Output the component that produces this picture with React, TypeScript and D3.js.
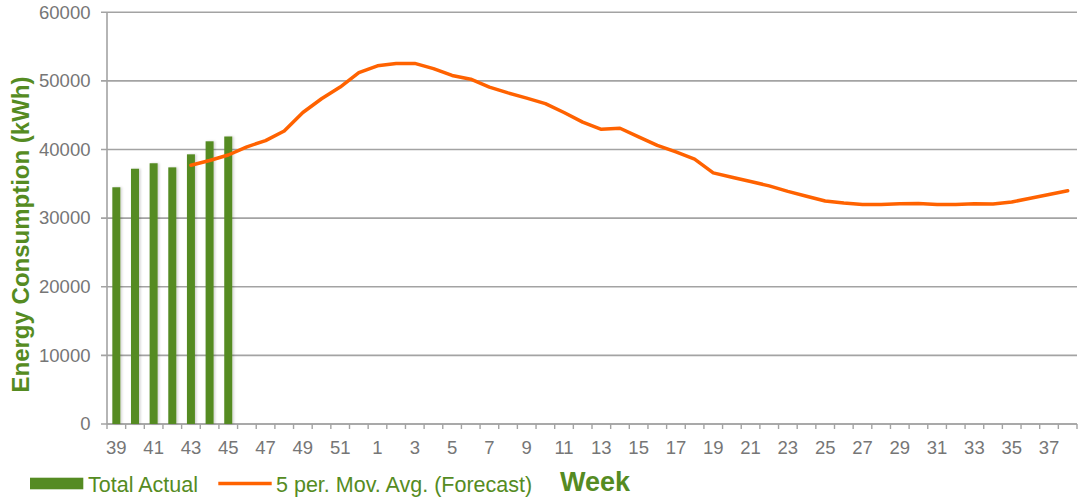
import React, { useRef, useEffect } from 'react'
import * as d3 from 'd3'

// weeks 39..52 then 1..38
const weeks: string[] = [
  ...d3.range(39, 53).map(String),
  ...d3.range(1, 39).map(String),
]

const actualWeeks = ['39', '40', '41', '42', '43', '44', '45']
const actualValues = [34500, 37200, 38000, 37400, 39300, 41200, 41900]

const forecastWeeks = [
  '43', '44', '45', '46', '47', '48', '49', '50', '51', '52',
  '1', '2', '3', '4', '5', '6', '7', '8', '9', '10',
  '11', '12', '13', '14', '15', '16', '17', '18', '19', '20',
  '21', '22', '23', '24', '25', '26', '27', '28', '29', '30',
  '31', '32', '33', '34', '35', '36', '37', '38',
]
const forecastValues = [
  37700, 38400, 39200, 40400, 41300, 42700, 45400, 47400, 49100, 51200,
  52200, 52550, 52550, 51800, 50800, 50250, 49100, 48250, 47500, 46700,
  45400, 44000, 42950, 43100, 41850, 40600, 39650, 38600, 36600, 35950,
  35350, 34700, 33900, 33200, 32500, 32200, 32000, 32000, 32100, 32150,
  32000, 31980, 32100, 32050, 32350, 32900, 33450, 34000,
]

const yTicks = [0, 10000, 20000, 30000, 40000, 50000, 60000]

const GREEN = '#558b22'
const ORANGE = '#ff6200'
const GRID = '#a3a3a3'
const LABEL = '#767676'
const FONT = '"Liberation Sans", Arial, sans-serif'

export default function App() {
  const svgRef = useRef<SVGSVGElement>(null)
  const width = 1086
  const height = 498

  useEffect(() => {
    if (!svgRef.current) return
    const svg = d3.select(svgRef.current)
    svg.selectAll('*').remove()

    const left = 107
    const right = 1077
    const top = 12.3
    const bottom = 424

    const x = d3.scaleBand<string>().domain(weeks).range([left, right]).padding(0)
    const y = d3.scaleLinear().domain([0, 60000]).range([bottom, top])

    // gridlines
    svg.append('g')
      .selectAll('line')
      .data(yTicks)
      .enter()
      .append('line')
      .attr('x1', left - 6)
      .attr('x2', right)
      .attr('y1', d => y(d))
      .attr('y2', d => y(d))
      .attr('stroke', GRID)
      .attr('stroke-width', 1.6)

    // y labels
    svg.append('g')
      .selectAll('text')
      .data(yTicks)
      .enter()
      .append('text')
      .attr('x', 90.5)
      .attr('y', d => y(d) + 6.3)
      .attr('text-anchor', 'end')
      .attr('font-family', FONT)
      .attr('font-size', 18.5)
      .attr('fill', LABEL)
      .text(d => String(d))

    // y axis line
    svg.append('line')
      .attr('x1', left).attr('x2', left)
      .attr('y1', top).attr('y2', bottom)
      .attr('stroke', GRID).attr('stroke-width', 1.6)

    // x axis line + ticks at band boundaries
    svg.append('line')
      .attr('x1', left).attr('x2', right)
      .attr('y1', bottom).attr('y2', bottom)
      .attr('stroke', GRID).attr('stroke-width', 1.6)

    const boundaries = [...weeks.map(w => x(w) as number), right]
    svg.append('g')
      .selectAll('line')
      .data(boundaries)
      .enter()
      .append('line')
      .attr('x1', d => d).attr('x2', d => d)
      .attr('y1', bottom).attr('y2', bottom + 5)
      .attr('stroke', GRID).attr('stroke-width', 1.4)

    // x labels, every other week
    svg.append('g')
      .selectAll('text')
      .data(weeks.filter((_, i) => i % 2 === 0))
      .enter()
      .append('text')
      .attr('x', d => (x(d) as number) + x.bandwidth() / 2)
      .attr('y', 454)
      .attr('text-anchor', 'middle')
      .attr('font-family', FONT)
      .attr('font-size', 18.5)
      .attr('fill', LABEL)
      .text(d => d)

    // bars
    const barW = 8
    const defs = svg.append('defs')
    const f = defs.append('filter').attr('id', 'shadow').attr('x', '-50%').attr('width', '200%')
    f.append('feDropShadow').attr('dx', 1.5).attr('dy', 0).attr('stdDeviation', 1.2)
      .attr('flood-color', '#000').attr('flood-opacity', 0.18)

    svg.append('g')
      .selectAll('rect')
      .data(actualValues)
      .enter()
      .append('rect')
      .attr('x', (_, i) => (x(actualWeeks[i]) as number) + x.bandwidth() / 2 - barW / 2)
      .attr('y', d => y(d))
      .attr('width', barW)
      .attr('height', d => bottom - y(d))
      .attr('fill', GREEN)
      .attr('filter', 'url(#shadow)')

    // forecast line
    const line = d3.line<number>()
      .x((_, i) => (x(forecastWeeks[i]) as number) + x.bandwidth() / 2)
      .y(d => y(d))

    svg.append('path')
      .datum(forecastValues)
      .attr('d', line)
      .attr('fill', 'none')
      .attr('stroke', ORANGE)
      .attr('stroke-width', 3.5)
      .attr('stroke-linejoin', 'round')
      .attr('stroke-linecap', 'round')

    // y title
    svg.append('text')
      .attr('transform', 'translate(28.5,234.5) rotate(-90)')
      .attr('text-anchor', 'middle')
      .attr('font-family', FONT)
      .attr('font-weight', 'bold')
      .attr('font-size', 24)
      .attr('fill', GREEN)
      .text('Energy Consumption (kWh)')

    // legend
    svg.append('rect')
      .attr('x', 30).attr('y', 477.7).attr('width', 53.3).attr('height', 11.6)
      .attr('fill', GREEN)
    svg.append('text')
      .attr('x', 88).attr('y', 491.5)
      .attr('font-family', FONT).attr('font-size', 21.5).attr('fill', GREEN)
      .text('Total Actual')
    svg.append('line')
      .attr('x1', 218.3).attr('x2', 271.7).attr('y1', 483.5).attr('y2', 483.5)
      .attr('stroke', ORANGE).attr('stroke-width', 3.5)
    svg.append('text')
      .attr('x', 276).attr('y', 491.5)
      .attr('font-family', FONT).attr('font-size', 21.5).attr('fill', GREEN)
      .text('5 per. Mov. Avg. (Forecast)')
    svg.append('text')
      .attr('x', 560).attr('y', 490.7)
      .attr('font-family', FONT).attr('font-weight', 'bold').attr('font-size', 27).attr('fill', GREEN)
      .text('Week')
  }, [])

  return (
    <svg
      ref={svgRef}
      width={width}
      height={height}
      style={{ position: 'absolute', left: 0, top: 0, background: '#fff' }}
    />
  )
}
